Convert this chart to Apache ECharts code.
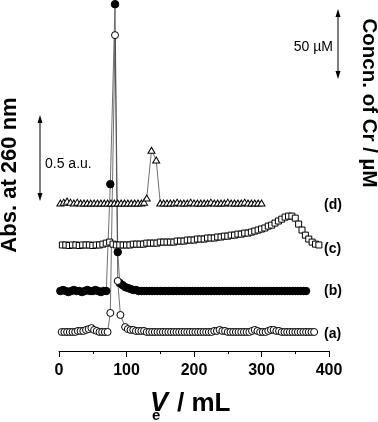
<!DOCTYPE html>
<html>
<head>
<meta charset="utf-8">
<script src="https://cdn.jsdelivr.net/npm/echarts@6/dist/echarts.min.js"></script>
<style>
html,body{margin:0;padding:0;background:#fff;}
#chart{width:378px;height:422px;}
</style>
</head>
<body>
<div id="chart"></div>
<script>
// Elution volume (mL) vs. offset signal (a.u.)
const seriesA = [[4,0.112],[8,0.112],[12,0.112],[16,0.112],[20,0.112],[24,0.112],[28,0.118],[32,0.118],[36,0.118],[40,0.124],[44,0.129],[48,0.135],[52,0.124],[56,0.118],[60,0.112],[64,0.112],[68,0.112],[72,0.112],
  [76,0.224],[83,1.859],[87,0.412],[91,0.212],[98,0.141],
  [102,0.129],[106,0.124],[110,0.124],[114,0.118],[118,0.118],[122,0.118],[126,0.118],[130,0.112],[134,0.112],[138,0.112],[142,0.112],[146,0.112],[150,0.112],[154,0.112],[158,0.112],[162,0.112],[166,0.112],[170,0.112],[174,0.112],[178,0.112],[182,0.112],[186,0.112],[190,0.112],[194,0.112],[198,0.112],[202,0.112],[206,0.112],[210,0.112],[214,0.112],[218,0.112],[222,0.112],[226,0.112],[230,0.118],[234,0.118],[238,0.124],[242,0.118],[246,0.118],[250,0.112],[254,0.112],[258,0.112],[262,0.112],[266,0.112],[270,0.112],[274,0.112],[278,0.112],[282,0.112],[286,0.118],[290,0.124],[294,0.118],[298,0.112],[302,0.112],[306,0.112],[310,0.118],[314,0.124],[318,0.124],[322,0.118],[326,0.118],[330,0.112],[334,0.112],[338,0.112],[342,0.112],[346,0.112],[350,0.112],[354,0.112],[358,0.112],[362,0.112],[366,0.112],[370,0.112],[374,0.112],[378,0.112]];

const seriesB = [[2,0.353],[6,0.359],[10,0.353],[14,0.347],[18,0.353],[22,0.359],[26,0.353],[30,0.353],[34,0.347],[38,0.353],[42,0.359],[46,0.353],[50,0.353],[54,0.359],[58,0.353],[62,0.347],[66,0.353],[70,0.353],
  [76,0.982],[83,2.041],[87,0.582],[90,0.400],[94,0.388],[98,0.376],[102,0.371],[106,0.365],[110,0.359],[114,0.359],
  [118,0.353],[122,0.353],[126,0.353],[130,0.353],[134,0.353],[138,0.353],[142,0.353],[146,0.353],[150,0.353],[154,0.353],[158,0.353],[162,0.353],[166,0.353],[170,0.353],[174,0.353],[178,0.353],[182,0.353],[186,0.353],[190,0.353],[194,0.353],[198,0.353],[202,0.353],[206,0.353],[210,0.353],[214,0.353],[218,0.353],[222,0.353],[226,0.353],[230,0.353],[234,0.353],[238,0.353],[242,0.353],[246,0.353],[250,0.353],[254,0.353],[258,0.353],[262,0.353],[266,0.353],[270,0.353],[274,0.353],[278,0.353],[282,0.353],[286,0.353],[290,0.353],[294,0.353],[298,0.353],[302,0.353],[306,0.353],[310,0.353],[314,0.353],[318,0.353],[322,0.353],[326,0.353],[330,0.353],[334,0.353],[338,0.353],[342,0.353],[346,0.353],[350,0.353],[354,0.353],[358,0.353],[362,0.353],[366,0.353]];

const seriesC = [[5,0.624],[10,0.624],[15,0.621],[20,0.624],[25,0.624],[30,0.621],[35,0.624],[40,0.624],[45,0.624],[50,0.621],[55,0.624],[60,0.624],[65,0.629],[70,0.635],[75,0.641],[80,0.629],[85,0.624],[90,0.624],[95,0.624],
  [100,0.624],[105,0.624],[110,0.629],[115,0.629],[120,0.629],[125,0.629],[130,0.635],[135,0.635],[140,0.635],[145,0.635],[150,0.641],[155,0.641],[160,0.641],
  [165,0.641],[170,0.641],[175,0.647],[180,0.647],[185,0.647],[190,0.653],[195,0.653],[200,0.653],[205,0.659],[210,0.659],[215,0.659],[220,0.665],[225,0.665],[230,0.665],[235,0.671],[240,0.671],
  [245,0.676],[250,0.676],[255,0.682],[260,0.682],[265,0.688],[270,0.688],[275,0.694],[280,0.694],[285,0.700],[290,0.706],[295,0.712],[300,0.718],
  [305,0.724],[310,0.735],[315,0.741],[320,0.753],[325,0.765],[330,0.776],[335,0.788],[340,0.794],
  [345,0.794],[350,0.782],[355,0.747],[360,0.712],[365,0.682],[370,0.659],[375,0.641],[380,0.629],[385,0.624]];

const seriesD = [[2,0.871],[7,0.876],[12,0.882],[17,0.876],[22,0.871],[27,0.876],[32,0.871],[37,0.871],[42,0.871],[47,0.871],[52,0.871],[57,0.871],[62,0.871],[67,0.871],[72,0.871],[77,0.871],[82,0.871],[87,0.871],[92,0.871],[97,0.871],[102,0.871],[107,0.871],[112,0.871],[117,0.871],[122,0.871],[126,0.876],
  [130,0.900],[137,1.182],[144,1.124],
  [150,0.871],[155,0.871],[160,0.871],[165,0.871],[170,0.871],[175,0.876],[180,0.871],[185,0.871],[190,0.871],[195,0.876],[200,0.871],[205,0.871],[210,0.871],[215,0.871],[220,0.871],[225,0.876],[230,0.871],[235,0.871],[240,0.871],[245,0.871],[250,0.876],[255,0.871],[260,0.871],[265,0.871],[270,0.871],[275,0.876],[280,0.871],[285,0.871],[290,0.871],[295,0.871],[300,0.871]];

const seriesLabels = ['(a)','(b)','(c)','(d)'];
const xTitle = ['V','e','/ mL'];
const yTitleLeft = 'Abs. at 260 nm';
const yTitleRight = 'Concn. of Cr / \u00b5M';
const scaleLeft = '0.5 a.u.';
const scaleRight = '50 \u00b5M';

const FONT = '"Liberation Sans", Arial, Helvetica, sans-serif';
const chart = echarts.init(document.getElementById('chart'), null, {renderer:'canvas'});

const lineStyle = {color:'#333', width:0.7};
function mk(data, symbol, size, fill){
  return {
    type:'line', data:data, symbol:symbol, symbolSize:size, showSymbol:true,
    clip:false, animation:false,
    lineStyle:lineStyle,
    itemStyle:{color:fill, borderColor:'#000', borderWidth:1}
  };
}

function txt(x,y,text,opts){
  return {type:'text', x:x, y:y, z:100,
    style:Object.assign({text:text, fill:'#000', fontFamily:FONT, fontSize:14, align:'left', verticalAlign:'middle'}, opts||{})};
}
function arrow(x,y1,y2){
  return [
    {type:'line', z:100, shape:{x1:x,y1:y1+4,x2:x,y2:y2-4}, style:{stroke:'#000', lineWidth:1}},
    {type:'polygon', z:100, shape:{points:[[x,y1],[x-2.5,y1+8],[x+2.5,y1+8]]}, style:{fill:'#000'}},
    {type:'polygon', z:100, shape:{points:[[x,y2],[x-2.5,y2-8],[x+2.5,y2-8]]}, style:{fill:'#000'}}
  ];
}

const graphics = [];
const lt = txt(10,175,yTitleLeft,{fontSize:22, fontWeight:'bold', align:'center'}); lt.rotation = Math.PI/2; graphics.push(lt);
const rt = txt(369,103,yTitleRight,{fontSize:20.5, fontWeight:'bold', align:'center'}); rt.rotation = -Math.PI/2; graphics.push(rt);
graphics.push(...arrow(40,115,201));
graphics.push(txt(45,164,scaleLeft,{fontSize:14}));
graphics.push(...arrow(338,9,79));
graphics.push(txt(333,47,scaleRight,{fontSize:14, align:'right'}));
const labY = [334,291,249,205];
seriesLabels.forEach((s,i)=>graphics.push(txt(324,labY[i],s,{fontSize:14, fontWeight:'bold'})));
graphics.push(txt(150,404,xTitle[0],{fontSize:27, fontWeight:'bold', fontStyle:'italic'}));
graphics.push(txt(152,416,xTitle[1],{fontSize:15, fontWeight:'bold'}));
graphics.push(txt(177,404,xTitle[2],{fontSize:26, fontWeight:'bold'}));

chart.setOption({
  animation:false,
  backgroundColor:'#fff',
  grid:{left:59, right:49, top:1, bottom:71},
  xAxis:{type:'value', min:0, max:400, interval:100,
    axisLine:{show:true, lineStyle:{color:'#000', width:1}},
    axisTick:{show:true, length:6, lineStyle:{color:'#000', width:1}},
    minorTick:{show:true, splitNumber:2, length:3, lineStyle:{color:'#000', width:1}},
    splitLine:{show:false},
    axisLabel:{color:'#000', fontSize:16, fontWeight:'bold', fontFamily:FONT, margin:12}
  },
  yAxis:{type:'value', min:0, max:2.06, show:false, splitLine:{show:false}},
  series:[
    mk(seriesD,'triangle',[7,6],'#fff'),
    mk(seriesC,'rect',6,'#fff'),
    mk(seriesB,'circle',7.5,'#000'),
    mk(seriesA,'circle',7,'#fff')
  ],
  graphic:graphics
});
</script>
</body>
</html>
